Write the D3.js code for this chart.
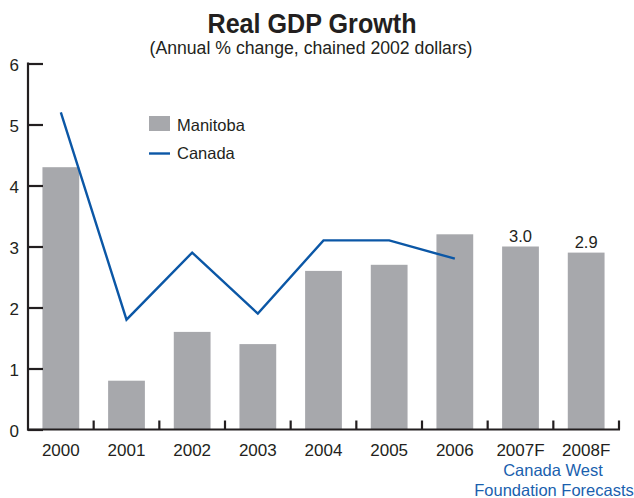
<!DOCTYPE html>
<html>
<head>
<meta charset="utf-8">
<script src="https://cdn.jsdelivr.net/npm/d3@7"></script>
<style>
  html, body { margin: 0; padding: 0; background: #fff; }
  svg { display: block; }
  text { font-family: "Liberation Sans", Arial, sans-serif; fill: #231f20; }
</style>
</head>
<body>
<svg id="chart" width="634" height="498"></svg>
<script>
// Years along the x axis (F = forecast)
const years = ["2000", "2001", "2002", "2003", "2004", "2005", "2006", "2007F", "2008F"];
// Manitoba real GDP growth, annual % change
const manitoba = [4.3, 0.8, 1.6, 1.4, 2.6, 2.7, 3.2, 3.0, 2.9];
// Canada real GDP growth, annual % change (actuals only)
const canada = [5.2, 1.8, 2.9, 1.9, 3.1, 3.1, 2.8];
// Forecast years whose values are printed above the bar
const labelledYears = ["2007F", "2008F"];
const yTicks = [0, 1, 2, 3, 4, 5, 6];

const barColor = "#a7a8ac";
const lineColor = "#0b57a6";
const axisColor = "#231f20";

const svg = d3.select("#chart");

const x = d3.scaleBand().domain(years).range([28, 619]).paddingInner(0.44).paddingOuter(0.22);
const xOuter = d3.scaleBand().domain(years).range([28, 619]);
const y = d3.scaleLinear().domain([0, 6]).range([429.5, 63.5]);

// Title block (condensed bold heading)
svg.append("text")
  .attr("x", 312).attr("y", 33)
  .attr("text-anchor", "middle")
  .attr("textLength", 209)
  .attr("lengthAdjust", "spacingAndGlyphs")
  .style("font-weight", "bold")
  .style("font-size", "27px")
  .text("Real GDP Growth");

svg.append("text")
  .attr("x", 311).attr("y", 54)
  .attr("text-anchor", "middle")
  .attr("textLength", 323)
  .attr("lengthAdjust", "spacingAndGlyphs")
  .style("font-size", "17.5px")
  .text("(Annual % change, chained 2002 dollars)");

// Manitoba bars
svg.append("g").selectAll("rect")
  .data(years.map((yr, i) => ({ yr, v: manitoba[i] })))
  .join("rect")
  .attr("x", d => x(d.yr))
  .attr("width", x.bandwidth())
  .attr("y", d => y(d.v))
  .attr("height", d => y(0) - y(d.v))
  .attr("fill", barColor);

// Value labels on forecast bars
svg.append("g").selectAll("text")
  .data(years.map((yr, i) => ({ yr, v: manitoba[i] })).filter(d => labelledYears.includes(d.yr)))
  .join("text")
  .attr("x", d => x(d.yr) + x.bandwidth() / 2)
  .attr("y", d => y(d.v) - 5)
  .attr("text-anchor", "middle")
  .style("font-size", "16.5px")
  .text(d => d3.format(".1f")(d.v));

// Canada line
const line = d3.line()
  .x(d => x(d.yr) + x.bandwidth() / 2)
  .y(d => y(d.v));

svg.append("path")
  .datum(canada.map((v, i) => ({ yr: years[i], v })))
  .attr("d", line)
  .attr("fill", "none")
  .attr("stroke", lineColor)
  .attr("stroke-width", 2.4)
  .attr("stroke-linejoin", "miter");

// Y axis: ticks pointing into the plot
const yAxis = svg.append("g")
  .attr("transform", "translate(28,0)")
  .call(d3.axisRight(y).tickValues(yTicks).tickSize(15).tickFormat(""));
yAxis.select(".domain").remove();
yAxis.selectAll("line").attr("stroke", axisColor).attr("stroke-width", 2.2);
svg.append("line")
  .attr("x1", 28).attr("x2", 28)
  .attr("y1", y(6) - 1).attr("y2", y(0) + 1)
  .attr("stroke", axisColor).attr("stroke-width", 2.2);
svg.append("g").selectAll("text")
  .data(yTicks)
  .join("text")
  .attr("x", 19)
  .attr("y", d => y(d))
  .attr("dy", "0.42em")
  .attr("text-anchor", "end")
  .style("font-size", "17px")
  .text(d => d);

// X axis: baseline with short upward ticks between bands
svg.append("line")
  .attr("x1", 27).attr("x2", 620)
  .attr("y1", y(0)).attr("y2", y(0))
  .attr("stroke", axisColor).attr("stroke-width", 2.2);
svg.append("g").selectAll("line")
  .data(years)
  .join("line")
  .attr("x1", d => xOuter(d) + xOuter.bandwidth())
  .attr("x2", d => xOuter(d) + xOuter.bandwidth())
  .attr("y1", y(0)).attr("y2", y(0) - 9)
  .attr("stroke", axisColor).attr("stroke-width", 2.2);

svg.append("g").selectAll("text")
  .data(years)
  .join("text")
  .attr("x", d => x(d) + x.bandwidth() / 2)
  .attr("y", 456)
  .attr("text-anchor", "middle")
  .style("font-size", "17px")
  .text(d => d);

// Forecast source note
const note = svg.append("text")
  .attr("text-anchor", "middle")
  .style("font-size", "16.5px")
  .style("fill", "#1a5fae");
note.append("tspan").attr("x", 553).attr("y", 476).text("Canada West");
note.append("tspan").attr("x", 554).attr("y", 496).text("Foundation Forecasts");

// Legend
const legend = svg.append("g");
legend.append("rect")
  .attr("x", 149).attr("y", 116).attr("width", 21).attr("height", 15)
  .attr("fill", barColor);
legend.append("text")
  .attr("x", 177).attr("y", 131)
  .style("font-size", "16.5px")
  .text("Manitoba");
legend.append("line")
  .attr("x1", 149).attr("x2", 170).attr("y1", 153.5).attr("y2", 153.5)
  .attr("stroke", lineColor).attr("stroke-width", 2.4);
legend.append("text")
  .attr("x", 177).attr("y", 159)
  .style("font-size", "16.5px")
  .text("Canada");
</script>
</body>
</html>
